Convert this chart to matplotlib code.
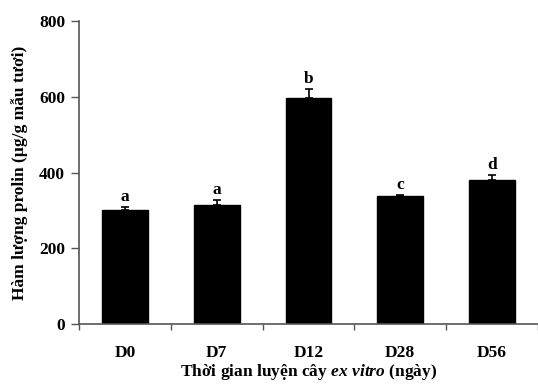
#Proline content bar chart during ex vitro acclimatization

import numpy as np
import matplotlib
matplotlib.use('Agg')
import matplotlib.pyplot as plt

days = ['D0', 'D7', 'D12', 'D28', 'D56']
proline = [301, 315, 596, 337, 380]
errors = [7, 12, 24, 3, 13]
letters = ['a', 'a', 'b', 'c', 'd']

plt.rcParams['font.family'] = ['Liberation Serif', 'DejaVu Serif']
plt.rcParams['font.weight'] = 'bold'
plt.rcParams['mathtext.fontset'] = 'custom'
plt.rcParams['mathtext.rm'] = 'Liberation Serif:bold'
plt.rcParams['mathtext.it'] = 'Liberation Serif:italic:bold'

fig = plt.figure(figsize=(5.38, 3.89), dpi=100)
ax = fig.add_axes([0.147, 0.167, 0.853, 0.779])

x = np.arange(len(days)) + 0.5
ax.bar(x, proline, width=0.5, color='black', edgecolor='black')
ax.errorbar(x, proline, yerr=[np.zeros(len(errors)), errors], fmt='none',
            ecolor='black', elinewidth=1.2, capsize=3, capthick=1.2)

#significance letters above each error bar
for xi, v, e, l in zip(x, proline, errors, letters):
    ax.text(xi, v + e + 6, l, ha='center', va='bottom', fontsize=12.5, fontweight='bold')

ax.set_xlim(0, 5)
ax.set_ylim(0, 800)
ax.set_yticks([0, 200, 400, 600, 800])
ax.set_xticks(np.arange(0, 6))
ax.set_xticklabels([])
ax.set_xticks(x, minor=True)
ax.set_xticklabels(days, minor=True)
ax.tick_params(axis='x', which='minor', length=0, pad=15, labelsize=12.5)
ax.tick_params(axis='x', which='major', length=4, direction='out', width=1, color='#555555')
ax.tick_params(axis='y', length=6, direction='out', width=1, labelsize=12.5, pad=4, color='#555555')
for lab in ax.get_xticklabels(minor=True) + ax.get_yticklabels():
    lab.set_fontweight('bold')

ax.spines['top'].set_visible(False)
ax.spines['right'].set_visible(False)
ax.spines['left'].set_color('#555555')
ax.spines['bottom'].set_color('#555555')
ax.spines['left'].set_linewidth(1.2)
ax.spines['bottom'].set_linewidth(1.2)

ax.set_ylabel('Hàm lượng prolin (µg/g mẫu tươi)', fontsize=12.5, fontweight='bold', labelpad=8)
ax.set_xlabel(r'Thời gian luyện cây $\mathit{ex\ vitro}$ (ngày)', fontsize=12.5,
              fontweight='bold', labelpad=1)

fig.savefig('out.png', dpi=100)
